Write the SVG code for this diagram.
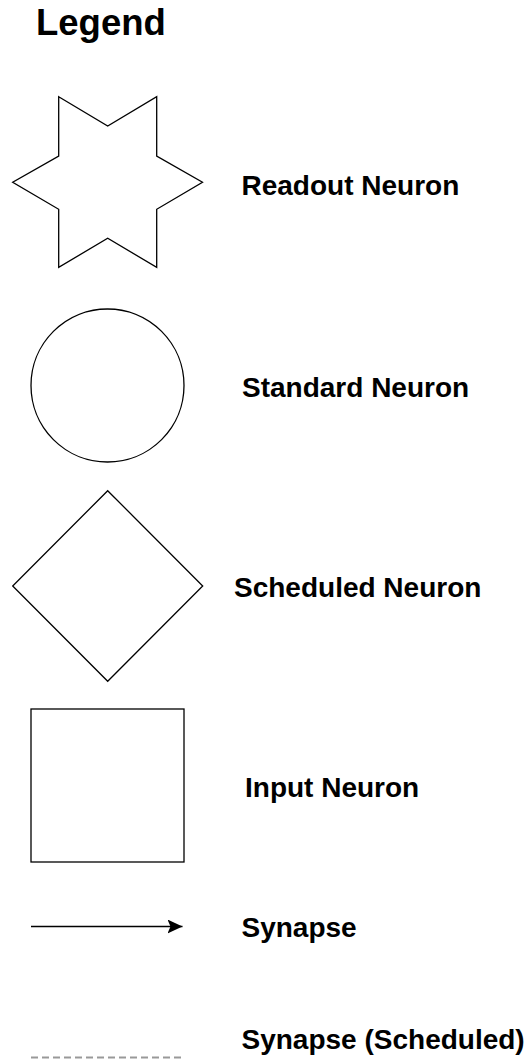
<svg xmlns="http://www.w3.org/2000/svg" width="524" height="1063" viewBox="0 0 524 1063">
  <style>
    .shape { fill: #ffffff; stroke: #000000; stroke-width: 1.3; }
    .label { font-family: "Liberation Sans", Arial, sans-serif; font-weight: bold; font-size: 28px; fill: #000000; }
    .title { font-family: "Liberation Sans", Arial, sans-serif; font-weight: bold; font-size: 36.5px; fill: #000000; }
    .synapse { stroke: #000000; stroke-width: 1.6; fill: none; }
    .scheduled { stroke: #999999; stroke-width: 2; fill: none; stroke-dasharray: 7 4; }
  </style>
  <defs>
    <marker id="arrowhead" markerUnits="userSpaceOnUse" markerWidth="18" markerHeight="16" refX="15" refY="7" orient="auto">
      <path d="M0,0 L15,7 L0,14 L3,7 Z" fill="#000000"/>
    </marker>
  </defs>
  <rect width="524" height="1063" fill="#ffffff"/>

  <text class="title" x="36" y="34.5">Legend</text>

  <g id="readout-neuron">
    <polygon class="shape" points="58.7,96.7 107.7,126 156.7,96.7 156.7,156 202.5,182.3 156.7,209.3 156.7,267.3 107.7,238.3 58.7,267.3 58.7,209.3 12.7,182.3 58.7,156"/>
    <text class="label" x="241.5" y="195">Readout Neuron</text>
  </g>

  <g id="standard-neuron">
    <circle class="shape" cx="107.5" cy="385.5" r="76.5"/>
    <text class="label" x="242" y="397">Standard Neuron</text>
  </g>

  <g id="scheduled-neuron">
    <polygon class="shape" points="107.7,490.7 202.7,586 107.7,681.3 12.7,586"/>
    <text class="label" x="234" y="597">Scheduled Neuron</text>
  </g>

  <g id="input-neuron">
    <rect class="shape" x="31" y="709" width="153" height="153"/>
    <text class="label" x="245" y="797">Input Neuron</text>
  </g>

  <g id="connectors">
    <line class="synapse" x1="31" y1="926.5" x2="182.5" y2="926.5" marker-end="url(#arrowhead)"/>
    <line class="scheduled" x1="31" y1="1057.5" x2="184" y2="1057.5"/>
  </g>

  <g id="connector-labels">
    <text class="label" x="241.5" y="937">Synapse</text>
    <text class="label" x="241.5" y="1048.5">Synapse (Scheduled)</text>
  </g>
</svg>
